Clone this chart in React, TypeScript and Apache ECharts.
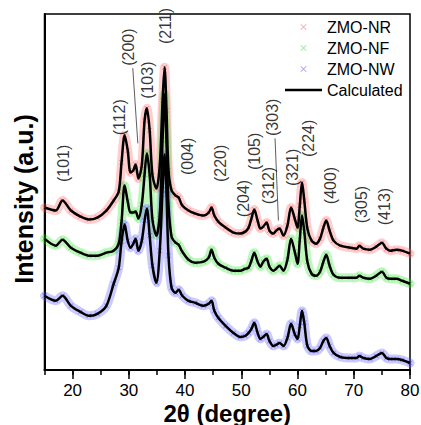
import { useEffect, useRef } from 'react';
import * as echarts from 'echarts';

// 2θ positions (degree) shared by all three patterns
const twoTheta = [15.0, 17.0, 18.2, 19.7, 21.4, 22.9, 24.4, 26.0, 27.3, 28.2, 28.7, 29.25, 29.8, 30.3, 30.8, 31.2, 31.7, 32.3, 32.8, 33.2, 33.7, 34.2, 34.9, 35.5, 36.0, 36.35, 36.7, 37.05, 37.6, 38.3, 38.85, 39.5, 40.6, 41.8, 43.3, 44.2, 44.7, 45.2, 45.9, 47.2, 48.6, 49.8, 50.7, 51.3, 51.8, 52.3, 52.9, 53.4, 53.9, 54.5, 55.0, 55.7, 56.2, 56.8, 57.5, 58.2, 58.85, 59.5, 60.0, 60.4, 60.8, 61.2, 61.75, 62.5, 63.3, 64.0, 64.6, 65.1, 65.7, 66.4, 67.6, 69.4, 70.5, 71.0, 71.7, 72.9, 74.0, 75.0, 75.8, 76.5, 77.6, 78.6, 80.0];

// Intensities (a.u., stacked offsets as in the figure)
const intensityNR = [162, 159, 169, 159, 153, 150, 152, 159, 169, 178, 207, 234, 219, 197, 199, 205, 191, 204, 249, 261, 239, 194, 181, 204, 269, 302, 259, 199, 179, 174, 172, 164, 159, 156, 154, 157, 162, 154, 148, 142, 137, 136, 138, 142, 151, 160, 149, 141, 143, 147, 139, 136, 139, 141, 134, 144, 162, 151, 142, 164, 187, 169, 141, 129, 126, 131, 142, 149, 139, 129, 124, 122, 121, 124, 121, 120, 123, 127, 121, 119, 120, 119, 116];
const intensityNF = [131, 124, 130, 122, 117, 114, 114, 117, 119, 126, 148, 184, 168, 157, 157, 158, 151, 165, 195, 216, 195, 150, 134, 155, 230, 275, 225, 165, 133, 127, 125, 118, 110, 107, 108, 112, 120, 112, 106, 102, 99, 99, 101, 102, 109, 117, 108, 103, 108, 111, 103, 99, 101, 104, 99, 110, 131, 118, 106, 130, 154, 138, 108, 96, 94, 98, 108, 115, 104, 95, 92, 92, 92, 94, 92, 91, 94, 98, 92, 91, 91, 89, 86];
const intensityNW = [74, 69, 74, 64, 58, 54, 56, 64, 86, 102, 128, 145, 129, 122, 126, 131, 119, 129, 149, 161, 134, 104, 87, 119, 180, 215, 175, 114, 82, 77, 80, 74, 69, 67, 64, 66, 69, 59, 52, 44, 37, 33, 34, 37, 41, 47, 37, 31, 33, 36, 29, 24, 25, 27, 24, 32, 46, 36, 31, 44, 59, 47, 24, 19, 19, 22, 29, 32, 24, 17, 13, 12, 12, 14, 12, 11, 14, 17, 12, 11, 11, 10, 7];

// Peak index labels and their positions (2θ, intensity)
const peakLabels = ['(101)', '(112)', '(200)', '(103)', '(211)', '(004)', '(220)', '(204)', '(105)', '(312)', '(303)', '(321)', '(224)', '(400)', '(305)', '(413)'];
const peakLabelX = [18.4, 28.35, 29.95, 33.3, 36.5, 40.45, 46.3, 50.4, 52.35, 54.8, 55.5, 59.1, 61.9, 65.8, 71.3, 75.4];
const peakLabelY = [206, 252, 322, 289, 343, 213, 206, 171, 218, 184, 252, 202, 231, 184, 165, 163];

// Leader lines for (200) and (303)
const leader200 = [[30.7, 301], [31.6, 226]];
const leader303 = [[56.0, 231], [56.6, 149]];

const xMin = 15;
const xMax = 80;
const xLabelTicks = [20, 30, 40, 50, 60, 70, 80];

const FONT = 'Arial, "Liberation Sans", sans-serif';
const X_MARK = 'path://M0,1 L1,0 L10,9 L9,10 Z M9,0 L10,1 L1,10 L0,9 Z';
const X_LEGEND = 'path://M-8,-8 M18,18 M0,1 L1,0 L10,9 L9,10 Z M9,0 L10,1 L1,10 L0,9 Z';
const LINE_LEGEND = 'path://M0,0 L37,0 L37,2.6 L0,2.6 Z';

const samples = [
  { name: 'ZMO-NR', values: intensityNR, band: 'rgba(255,90,90,0.3)', mark: 'rgba(255,40,40,0.55)' },
  { name: 'ZMO-NF', values: intensityNF, band: 'rgba(40,225,40,0.3)', mark: 'rgba(0,200,0,0.55)' },
  { name: 'ZMO-NW', values: intensityNW, band: 'rgba(80,80,255,0.3)', mark: 'rgba(30,30,255,0.55)' },
];

export default function App() {
  const ref = useRef<HTMLDivElement>(null);
  useEffect(() => {
    if (!ref.current) return;
    const chart = echarts.init(ref.current, undefined, { renderer: 'svg' });
    const series: any[] = [];
    samples.forEach((s, k) => {
      const pts = twoTheta.map((x, i) => [x, s.values[i]]);
      series.push({
        type: 'line', name: '_band' + k, data: pts, smooth: 0.3, symbol: 'none',
        lineStyle: { width: 9, color: s.band, cap: 'round', join: 'round' }, z: 1, silent: true,
      });
      series.push({
        type: 'scatter', name: s.name, data: pts, symbol: X_MARK, symbolSize: 5,
        itemStyle: { color: s.mark }, z: 2, silent: true,
      });
      series.push({
        type: 'line', name: 'Calculated', data: pts, smooth: 0.3, symbol: 'none', showSymbol: false,
        lineStyle: { width: 2.5, color: '#000' }, itemStyle: { color: '#000' }, z: 3, silent: true,
      });
    });
    series.push({
      type: 'line', name: '_lead1', data: leader200, symbol: 'none',
      lineStyle: { width: 0.8, color: '#333' }, z: 4, silent: true,
    });
    series.push({
      type: 'line', name: '_lead2', data: leader303, symbol: 'none',
      lineStyle: { width: 0.8, color: '#333' }, z: 4, silent: true,
    });
    series.push({
      type: 'scatter', name: '_labels', symbolSize: 1, clip: false, silent: true,
      itemStyle: { color: 'transparent' }, z: 5,
      data: peakLabels.map((t, i) => ({ name: t, value: [peakLabelX[i], peakLabelY[i]] })),
      label: {
        show: true, formatter: '{b}', rotate: 90, position: 'inside',
        fontSize: 16, color: '#000', fontFamily: FONT,
      },
    });

    chart.setOption({
      animation: false,
      backgroundColor: '#fff',
      textStyle: { fontFamily: FONT },
      grid: [
        { left: 44.5, right: 11, top: 14, bottom: 55, show: true, borderColor: '#000', borderWidth: 1.5, outerBoundsMode: 'none', containLabel: false },
        { left: 44.5 + (xLabelTicks[0] - xMin) * (365.5 / (xMax - xMin)), right: 11, top: 14, bottom: 55, outerBoundsMode: 'none', containLabel: false },
      ],
      legend: {
        data: [
          { name: 'ZMO-NR', icon: X_LEGEND },
          { name: 'ZMO-NF', icon: X_LEGEND },
          { name: 'ZMO-NW', icon: X_LEGEND },
          { name: 'Calculated', icon: LINE_LEGEND, itemStyle: { color: '#000', borderWidth: 0 } },
        ],
        orient: 'vertical', left: 285, top: 19, itemWidth: 37, itemHeight: 16, itemGap: 5,
        padding: 0, selectedMode: false,
        textStyle: { fontSize: 16, color: '#000', fontFamily: FONT },
      },
      xAxis: [
        {
          gridIndex: 0, type: 'value', min: xMin, max: xMax, interval: 5,
          axisLine: { lineStyle: { color: '#000', width: 2 } },
          axisTick: { show: true, length: 5, lineStyle: { color: '#000', width: 1.5 } },
          axisLabel: { show: false }, splitLine: { show: false },
          name: '2θ (degree)', nameLocation: 'middle', nameGap: 31,
          nameTextStyle: { fontSize: 24, fontWeight: 'bold', color: '#000', fontFamily: FONT, lineHeight: 24 },
        },
        {
          gridIndex: 1, type: 'value', min: xLabelTicks[0], max: xLabelTicks[xLabelTicks.length - 1], interval: 10,
          axisLine: { show: false },
          axisTick: { show: true, length: 9, lineStyle: { color: '#000', width: 1.5 } },
          axisLabel: { fontSize: 17, color: '#000', margin: 12, fontFamily: FONT, lineHeight: 17 },
          splitLine: { show: false },
        },
      ],
      yAxis: [
        {
          gridIndex: 0, type: 'value', min: 0, max: 355,
          axisLine: { show: true, lineStyle: { color: '#000', width: 2 } },
          axisTick: { show: false }, axisLabel: { show: false }, splitLine: { show: false },
          name: 'Intensity (a.u.)', nameLocation: 'middle', nameGap: 8,
          nameTextStyle: { fontSize: 25, fontWeight: 'bold', color: '#000', fontFamily: FONT, padding: [0, 14, 0, 0] },
        },
        { gridIndex: 1, type: 'value', min: 0, max: 355, show: false },
      ],
      series,
    });
    return () => chart.dispose();
  }, []);
  return <div ref={ref} style={{ position: 'absolute', left: 0, top: 0, width: 421, height: 425 }} />;
}
